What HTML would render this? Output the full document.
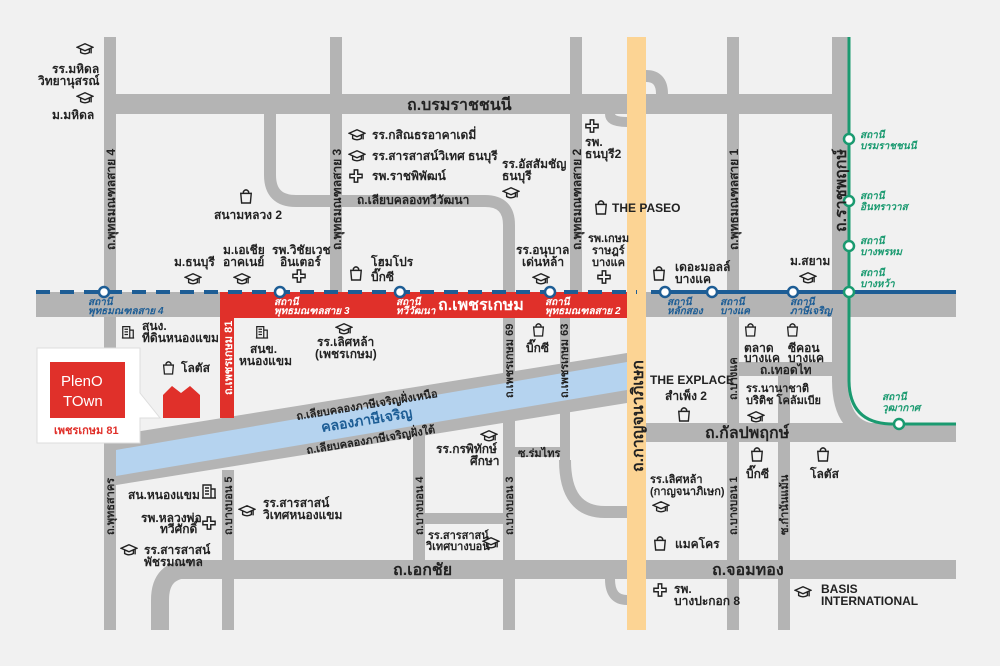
<!DOCTYPE html>
<html><head><meta charset="utf-8"><style>
html,body{margin:0;padding:0;background:#f1f1f1}
svg{display:block}
text{font-family:"Liberation Sans","Noto Sans CJK SC",sans-serif;fill:#222;font-weight:bold}
.s{font-size:11px}.m{font-size:12px}.b{font-size:16px}
.bl{fill:#1d5d95;font-size:10px;font-style:italic}
.gr{fill:#1a9a70;font-size:10px;font-style:italic}
.w{fill:#fff;font-size:10px;font-style:italic}
</style></head><body>
<svg width="1000" height="666" viewBox="0 0 1000 666">
<defs>
<symbol id="cap" viewBox="0 0 20 16"><path d="M1 6 L10 2 L19 6 L10 10 Z M5 8 V12 Q10 15 15 12 V8 M17 7 V13" fill="none" stroke="#222" stroke-width="1.6"/></symbol>
<symbol id="bag" viewBox="0 0 16 18"><path d="M2 6 H14 L13 17 H3 Z M5 6 V4 Q8 0 11 4 V6" fill="none" stroke="#222" stroke-width="1.6"/></symbol>
<symbol id="plus" viewBox="0 0 16 16"><path d="M6 1 H10 V6 H15 V10 H10 V15 H6 V10 H1 V6 H6 Z" fill="none" stroke="#222" stroke-width="1.6"/></symbol>
<symbol id="bld" viewBox="0 0 16 18"><path d="M2 17 V4 H10 V17 M10 8 H14 V17 M1 17 H15 M4 7 H8 M4 10 H8 M4 13 H8" fill="none" stroke="#222" stroke-width="1.4"/></symbol>
</defs>
<g fill="#b4b4b4">
<rect x="104" y="94" width="740" height="20"/>
<rect x="36" y="292" width="920" height="25"/>
<rect x="646" y="423" width="310" height="19"/>
<rect x="646" y="560" width="310" height="19"/>
<rect x="176" y="560" width="451" height="19"/>
<rect x="738" y="362" width="94" height="14"/>
<rect x="425" y="513" width="78" height="11"/>
<rect x="515" y="447" width="45" height="10"/>
<rect x="104" y="37" width="12" height="593"/>
<rect x="330" y="37" width="12" height="255"/>
<rect x="570" y="37" width="12" height="255"/>
<rect x="727" y="37" width="12" height="593"/>
<rect x="832" y="37" width="16" height="345"/>
<rect x="778" y="362" width="12" height="268"/>
<rect x="222" y="470" width="12" height="160"/>
<rect x="413" y="430" width="12" height="130"/>
<rect x="503" y="317" width="12" height="313"/>
<rect x="560" y="317" width="10" height="150"/>
</g>
<g fill="none" stroke="#b4b4b4">
<path d="M270 114 V175 Q270 201 296 201 H485 Q509 201 509 225 V292" stroke-width="12"/>
<path d="M565 460 Q565 512 605 512 H627" stroke-width="12"/>
<path d="M840 380 Q840 432 880 432" stroke-width="16"/>
<path d="M646 76 Q662 76 662 94" stroke-width="12"/>
<path d="M627 122 Q610 122 610 114" stroke-width="10"/>
<path d="M160 630 V600 Q160 569 190 569" stroke-width="18"/>
<path d="M627 600 Q610 600 610 579" stroke-width="10"/>
</g>
<polygon points="104,437 627,353 627,403 104,487" fill="#b4b4b4"/>
<polygon points="116,450 627,362 627,390 116,476" fill="#b5d3ef"/>
<rect x="627" y="37" width="19" height="593" fill="#fcd494"/>
<rect x="220" y="292" width="407" height="26" fill="#e0302a"/>
<rect x="220" y="292" width="14" height="126" fill="#e0302a"/>
<line x1="36" y1="292" x2="637" y2="292" stroke="#1d5d95" stroke-width="4" stroke-dasharray="14,10"/>
<line x1="651" y1="292" x2="956" y2="292" stroke="#1d5d95" stroke-width="4"/>
<path d="M849 37 V380 Q849 424 893 424 H956" fill="none" stroke="#1a9a70" stroke-width="3"/>
<g fill="#fff" stroke="#1d5d95" stroke-width="2.5">
<circle cx="104" cy="292" r="5"/><circle cx="280" cy="292" r="5"/><circle cx="400" cy="292" r="5"/><circle cx="550" cy="292" r="5"/>
<circle cx="665" cy="292" r="5"/><circle cx="712" cy="292" r="5"/><circle cx="793" cy="292" r="5"/>
</g>
<g fill="#fff" stroke="#1a9a70" stroke-width="2.5">
<circle cx="849" cy="139" r="5"/><circle cx="849" cy="201" r="5"/><circle cx="849" cy="246" r="5"/><circle cx="849" cy="292" r="5"/><circle cx="899" cy="424" r="5"/>
</g>
<text class="bl" x="88" y="305">สถานี</text><text class="bl" x="88" y="314">พุทธมณฑลสาย 4</text>
<text class="w" x="274" y="305">สถานี</text><text class="w" x="274" y="314">พุทธมณฑลสาย 3</text>
<text class="w" x="396" y="305">สถานี</text><text class="w" x="396" y="314">ทวีวัฒนา</text>
<text class="w" x="545" y="305">สถานี</text><text class="w" x="545" y="314">พุทธมณฑลสาย 2</text>
<text class="bl" x="667" y="305">สถานี</text><text class="bl" x="667" y="314">หลักสอง</text>
<text class="bl" x="720" y="305">สถานี</text><text class="bl" x="720" y="314">บางแค</text>
<text class="bl" x="790" y="305">สถานี</text><text class="bl" x="790" y="314">ภาษีเจริญ</text>
<text class="gr" x="860" y="138">สถานี</text><text class="gr" x="860" y="149">บรมราชชนนี</text>
<text class="gr" x="860" y="199">สถานี</text><text class="gr" x="860" y="210">อินทราวาส</text>
<text class="gr" x="860" y="244">สถานี</text><text class="gr" x="860" y="255">บางพรหม</text>
<text class="gr" x="860" y="276">สถานี</text><text class="gr" x="860" y="287">บางหว้า</text>
<text class="gr" x="882" y="400">สถานี</text><text class="gr" x="882" y="411">วุฒากาศ</text>
<text class="b" x="407" y="110">ถ.บรมราชชนนี</text>
<text class="b" x="438" y="310" style="fill:#fff">ถ.เพชรเกษม</text>
<text class="b" x="705" y="438">ถ.กัลปพฤกษ์</text>
<text class="b" x="712" y="575">ถ.จอมทอง</text>
<text class="b" x="393" y="575">ถ.เอกชัย</text>
<text class="m" x="357" y="204">ถ.เลียบคลองทวีวัฒนา</text>
<text class="m" x="760" y="374">ถ.เทอดไท</text>
<text class="s" x="518" y="457">ซ.ร่มไทร</text>
<text class="b" transform="translate(643,472) rotate(-90)">ถ.กาญจนาภิเษก</text>
<text class="b" transform="translate(846,232) rotate(-90)">ถ.ราชพฤกษ์</text>
<text transform="translate(115,250) rotate(-90)" class="m">ถ.พุทธมณฑลสาย 4</text>
<text transform="translate(341,250) rotate(-90)" class="m">ถ.พุทธมณฑลสาย 3</text>
<text transform="translate(581,250) rotate(-90)" class="m">ถ.พุทธมณฑลสาย 2</text>
<text transform="translate(738,250) rotate(-90)" class="m">ถ.พุทธมณฑลสาย 1</text>
<text transform="translate(232,395) rotate(-90)" class="s" style="fill:#fff">ถ.เพชรเกษม 81</text>
<text transform="translate(513,398) rotate(-90)" class="s">ถ.เพชรเกษม 69</text>
<text transform="translate(568,398) rotate(-90)" class="s">ถ.เพชรเกษม 63</text>
<text transform="translate(114,535) rotate(-90)" class="s">ถ.พุทธสาคร</text>
<text transform="translate(232,535) rotate(-90)" class="s">ถ.บางบอน 5</text>
<text transform="translate(423,535) rotate(-90)" class="s">ถ.บางบอน 4</text>
<text transform="translate(513,535) rotate(-90)" class="s">ถ.บางบอน 3</text>
<text transform="translate(737,535) rotate(-90)" class="s">ถ.บางบอน 1</text>
<text transform="translate(737,400) rotate(-90)" class="s">ถ.บางแค</text>
<text transform="translate(788,535) rotate(-90)" class="s">ซ.กำนันแม้น</text>
<text class="s" transform="translate(297,420) rotate(-9.3)">ถ.เลียบคลองภาษีเจริญฝั่งเหนือ</text>
<text class="b" transform="translate(322,432) rotate(-9.3)" style="fill:#1d5d95;font-size:14px">คลองภาษีเจริญ</text>
<text class="s" transform="translate(307,454) rotate(-9.3)">ถ.เลียบคลองภาษีเจริญฝั่งใต้</text>
<polygon points="37,348 140,348 140,393 160,418 140,418 140,443 37,443" fill="#fff" stroke="#ddd"/>
<rect x="50" y="362" width="75" height="56" fill="#e0302a"/>
<text x="61" y="386" style="fill:#fff;font-size:15px;font-weight:normal">PlenO</text>
<text x="63" y="406" style="fill:#fff;font-size:15px;font-weight:normal">TOwn</text>
<text x="54" y="434" style="fill:#e0302a;font-size:11px">เพชรเกษม 81</text>
<polygon points="163,418 163,395 172,386 181,393 190,386 200,395 200,418" fill="#e0302a"/>
<use href="#cap" x="76" y="42" width="18" height="14"/><text class="m" x="52" y="73">รร.มหิดล</text><text class="m" x="38" y="85">วิทยานุสรณ์</text>
<use href="#cap" x="76" y="91" width="18" height="14"/><text class="m" x="52" y="119">ม.มหิดล</text>
<use href="#cap" x="348" y="128" width="18" height="14"/><text class="m" x="372" y="139">รร.กสิณธรอาคาเดมี่</text>
<use href="#cap" x="348" y="149" width="18" height="14"/><text class="m" x="372" y="160">รร.สารสาสน์วิเทศ ธนบุรี</text>
<use href="#plus" x="349" y="169" width="14" height="14"/><text class="m" x="372" y="180">รพ.ราชพิพัฒน์</text>
<use href="#bag" x="239" y="188" width="14" height="16"/><text class="m" x="214" y="219">สนามหลวง 2</text>
<text class="m" x="174" y="266">ม.ธนบุรี</text><use href="#cap" x="184" y="272" width="18" height="14"/>
<text class="m" x="223" y="254">ม.เอเชีย</text><text class="m" x="223" y="266">อาคเนย์</text><use href="#cap" x="233" y="272" width="18" height="14"/>
<text class="m" x="272" y="254">รพ.วิชัยเวช</text><text class="m" x="280" y="266">อินเตอร์</text><use href="#plus" x="292" y="269" width="14" height="14"/>
<use href="#bag" x="349" y="265" width="14" height="16"/><text class="m" x="371" y="266">โฮมโปร</text><text class="m" x="371" y="281">บิ๊กซี</text>
<text class="m" x="502" y="168">รร.อัสสัมชัญ</text><text class="m" x="502" y="180">ธนบุรี</text><use href="#cap" x="502" y="186" width="18" height="14"/>
<use href="#plus" x="585" y="119" width="14" height="14"/><text class="m" x="585" y="146">รพ.</text><text class="m" x="585" y="158">ธนบุรี2</text>
<use href="#bag" x="594" y="199" width="14" height="16"/><text class="m" x="612" y="212">THE PASEO</text>
<text class="m" x="516" y="254">รร.อนุบาล</text><text class="m" x="522" y="266">เด่นหล้า</text><use href="#cap" x="532" y="272" width="18" height="14"/>
<text class="s" x="588" y="242">รพ.เกษม</text><text class="s" x="592" y="254">ราษฎร์</text><text class="s" x="592" y="266">บางแค</text><use href="#plus" x="597" y="270" width="14" height="14"/>
<use href="#bag" x="652" y="265" width="14" height="16"/><text class="m" x="675" y="271">เดอะมอลล์</text><text class="m" x="675" y="283">บางแค</text>
<text class="m" x="790" y="265">ม.สยาม</text><use href="#cap" x="799" y="271" width="18" height="14"/>
<use href="#bld" x="121" y="322" width="14" height="18"/><text class="m" x="142" y="330">สนง.</text><text class="m" x="142" y="342">ที่ดินหนองแขม</text>
<use href="#bag" x="162" y="360" width="13" height="15"/><text class="m" x="181" y="372">โลตัส</text>
<use href="#bld" x="255" y="322" width="14" height="18"/><text class="m" x="250" y="353">สนข.</text><text class="m" x="239" y="365">หนองแขม</text>
<use href="#cap" x="335" y="322" width="18" height="14"/><text class="m" x="317" y="346">รร.เลิศหล้า</text><text class="m" x="315" y="358">(เพชรเกษม)</text>
<use href="#bag" x="532" y="322" width="13" height="15"/><text class="m" x="526" y="352">บิ๊กซี</text>
<text class="m" x="650" y="384">THE EXPLACE</text><text class="m" x="665" y="400">สำเพ็ง 2</text><use href="#bag" x="677" y="406" width="14" height="16"/>
<use href="#bag" x="744" y="322" width="13" height="15"/><text class="m" x="744" y="352">ตลาด</text><text class="m" x="744" y="362">บางแค</text>
<use href="#bag" x="786" y="322" width="13" height="15"/><text class="m" x="788" y="352">ซีคอน</text><text class="m" x="788" y="362">บางแค</text>
<text class="s" x="746" y="392">รร.นานาชาติ</text><text class="s" x="746" y="404">บริติช โคลัมเบีย</text><use href="#cap" x="747" y="410" width="18" height="14"/>
<use href="#bag" x="750" y="446" width="14" height="16"/><text class="m" x="746" y="478">บิ๊กซี</text>
<use href="#bag" x="816" y="446" width="14" height="16"/><text class="m" x="810" y="478">โลตัส</text>
<use href="#cap" x="480" y="429" width="18" height="14"/><text class="m" x="436" y="453">รร.กรพิทักษ์</text><text class="m" x="470" y="465">ศึกษา</text>
<text class="s" x="650" y="483">รร.เลิศหล้า</text><text class="s" x="650" y="495">(กาญจนาภิเษก)</text><use href="#cap" x="652" y="500" width="18" height="14"/>
<use href="#bag" x="653" y="535" width="14" height="16"/><text class="m" x="675" y="548">แมคโคร</text>
<use href="#plus" x="653" y="583" width="14" height="14"/><text class="m" x="674" y="593">รพ.</text><text class="m" x="674" y="605">บางปะกอก 8</text>
<use href="#cap" x="794" y="585" width="18" height="14"/><text class="m" x="821" y="593">BASIS</text><text class="m" x="821" y="605">INTERNATIONAL</text>
<text class="m" x="128" y="499">สน.หนองแขม</text><use href="#bld" x="201" y="480" width="16" height="20"/>
<text class="m" x="141" y="522">รพ.หลวงพ่อ</text><text class="m" x="160" y="533">ทวีศักดิ์</text><use href="#plus" x="202" y="516" width="14" height="14"/>
<use href="#cap" x="120" y="543" width="18" height="14"/><text class="m" x="144" y="554">รร.สารสาสน์</text><text class="m" x="144" y="566">พัชรมณฑล</text>
<use href="#cap" x="238" y="504" width="18" height="14"/><text class="m" x="263" y="507">รร.สารสาสน์</text><text class="m" x="263" y="519">วิเทศหนองแขม</text>
<text class="s" x="428" y="539">รร.สารสาสน์</text><text class="s" x="426" y="550">วิเทศบางบอน</text><use href="#cap" x="482" y="536" width="18" height="14"/>
</svg>
</body></html>
